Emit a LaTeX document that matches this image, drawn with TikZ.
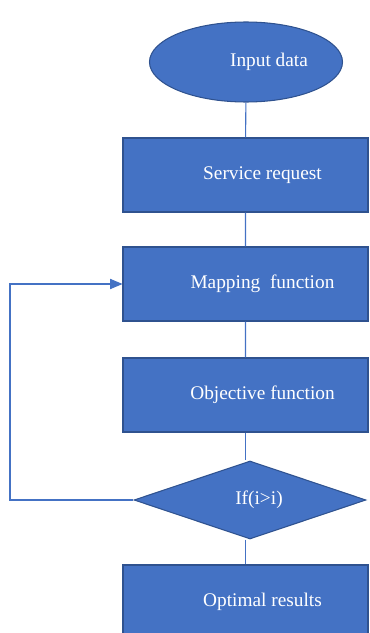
\documentclass[tikz,border=0pt]{standalone}
\usepackage{fontspec}
\setmainfont{Liberation Serif}
\usetikzlibrary{arrows,shapes.geometric}

\definecolor{boxblue}{HTML}{4472C4}
\definecolor{edgeblue}{HTML}{2F528F}

\tikzset{
  shape base/.style={draw=edgeblue,fill=boxblue,text=white,font=\fontsize{11}{13}\selectfont,inner sep=0pt,line width=0.6pt},
  procbox/.style={shape base,rectangle,minimum width=4.9cm,minimum height=1.48cm},
  link/.style={draw=boxblue,line width=0.6pt}
}

\begin{document}
\begin{tikzpicture}
  \useasboundingbox (0,0) rectangle (7.4,12.66);
  \node[shape base,ellipse,minimum width=3.86cm,minimum height=1.6cm] (In) at (4.92,11.42) {\hspace*{0.92cm}Input data};
  \node[procbox] (Req) at (4.91,9.16) {\hspace*{0.68cm}Service request};
  \node[procbox] (Map) at (4.91,6.98) {\hspace*{0.68cm}Mapping\ \ function};
  \node[procbox] (Obj) at (4.91,4.76) {\hspace*{0.68cm}Objective function};
  \node[shape base,diamond,aspect=2.97,minimum width=4.64cm,minimum height=1.56cm] (If) at (5.0,2.66) {\hspace*{0.36cm}If(i>i)};
  \node[procbox] (Opt) at (4.91,0.62) {\hspace*{0.68cm}Optimal results};
  \coordinate (Back) at (0.2,2.66);
  \draw[link] (In) -- (Req) -- (Map) -- (Obj);
  \draw[link] (Obj.south) -- (Obj.south |- If.north);
  \draw[link] (Obj.south |- If.south) -- (Opt.north);
  \draw[link,-triangle 45] (If.west) -- (Back) |- (Map.west);
\end{tikzpicture}
\end{document}
